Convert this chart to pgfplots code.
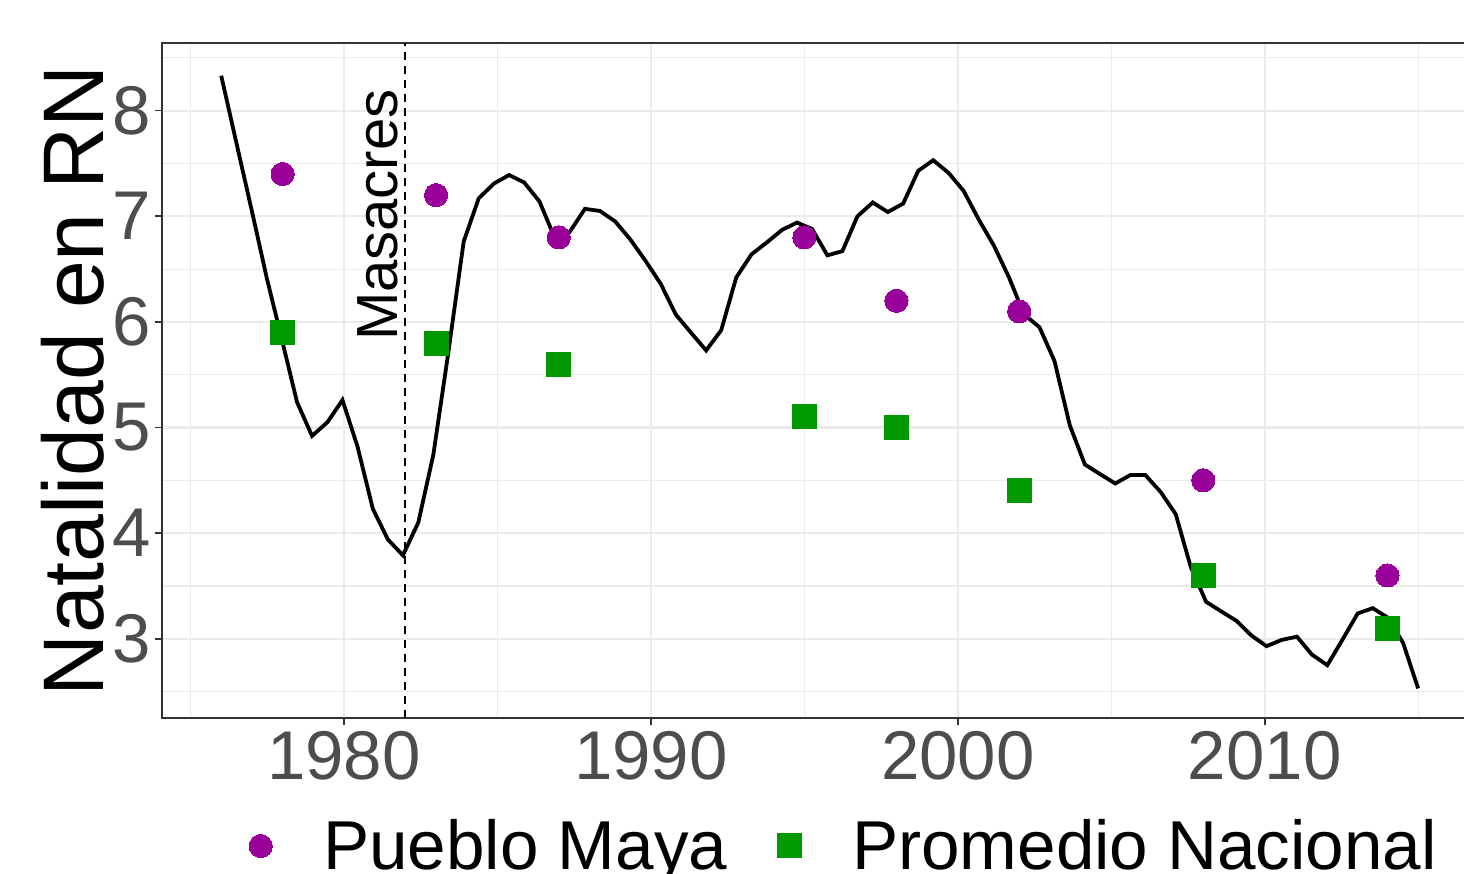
\documentclass[border=0pt]{standalone}
\usepackage{fontspec}
\setmainfont{Liberation Sans}
\usepackage{pgfplots}
\usepackage{pgfplotstable}
\pgfplotsset{compat=1.18}
\definecolor{maya}{HTML}{990099}
\definecolor{nac}{HTML}{009900}
\definecolor{gridc}{HTML}{EBEBEB}
\definecolor{tickc}{HTML}{4D4D4D}
\definecolor{framec}{HTML}{333333}
\pgfplotsset{singlemark/.style={legend image code/.code={\draw[##1] plot coordinates {(0pt,0pt)};}}}

\pgfplotstableread{
year value
1976.00 8.33
1976.49 7.70
1976.99 7.06
1977.48 6.42
1977.97 5.84
1978.47 5.24
1978.96 4.92
1979.46 5.05
1979.95 5.26
1980.44 4.82
1980.94 4.23
1981.43 3.94
1981.92 3.79
1982.42 4.10
1982.91 4.74
1983.41 5.73
1983.90 6.76
1984.39 7.17
1984.89 7.31
1985.38 7.39
1985.87 7.32
1986.37 7.14
1986.86 6.80
1987.35 6.85
1987.85 7.07
1988.34 7.05
1988.84 6.95
1989.33 6.78
1989.82 6.58
1990.32 6.36
1990.81 6.07
1991.30 5.90
1991.80 5.73
1992.29 5.92
1992.78 6.42
1993.28 6.64
1993.77 6.75
1994.27 6.87
1994.76 6.94
1995.25 6.88
1995.75 6.63
1996.24 6.67
1996.73 7.00
1997.23 7.13
1997.72 7.04
1998.22 7.12
1998.71 7.43
1999.20 7.53
1999.70 7.41
2000.19 7.24
2000.68 6.97
2001.18 6.72
2001.67 6.42
2002.16 6.07
2002.66 5.95
2003.15 5.63
2003.65 5.02
2004.14 4.65
2004.63 4.56
2005.13 4.47
2005.62 4.55
2006.11 4.55
2006.61 4.39
2007.10 4.18
2007.59 3.68
2008.09 3.35
2008.58 3.26
2009.08 3.17
2009.57 3.03
2010.06 2.93
2010.56 2.99
2011.05 3.02
2011.54 2.85
2012.04 2.75
2012.53 2.99
2013.03 3.24
2013.52 3.29
2014.01 3.20
2014.51 2.96
2015.00 2.53
}\natalidad

\pgfplotstableread{
year maya nacional
1978 7.40 5.90
1983 7.20 5.80
1987 6.80 5.60
1995 6.80 5.10
1998 6.20 5.00
2002 6.10 4.40
2008 4.50 3.60
2014 3.60 3.10
}\puntos

\begin{document}
\begin{tikzpicture}
\useasboundingbox (-81pt,-78pt) rectangle (651pt,359pt);
\begin{axis}[
  at={(0,0)}, anchor=south west,
  scale only axis, width=658pt, height=337.5pt,
  xmin=1974.07, xmax=2016.95, ymin=2.25, ymax=8.64,
  xtick={1980,1990,2000,2010},
  minor xtick={1975,1985,1995,2005,2015},
  ytick={3,4,5,6,7,8},
  minor ytick={2.5,3.5,4.5,5.5,6.5,7.5,8.5},
  grid=both,
  major grid style={gridc, line width=1.1pt},
  minor grid style={gridc, line width=0.55pt},
  axis line style={framec, line width=0.8pt},
  major tick style={framec, line width=0.8pt},
  major tick length=3.5pt, minor tick length=0pt,
  tick align=outside,
  xtick pos=lower, ytick pos=left,
  /pgf/number format/assume math mode=true,
  /pgf/number format/1000 sep={},
  tick label style={font=\fontsize{34.5}{40}\selectfont, text=tickc},
  xticklabel style={anchor=north, inner sep=0pt, yshift=-3pt},
  yticklabel style={anchor=east, inner sep=0pt, xshift=-2pt},
  ylabel={Natalidad en RN},
  ylabel style={font=\fontsize{43}{50}\selectfont, at={(axis description cs:-0.068,0.5)}, anchor=center, inner sep=0pt},
  legend columns=2,
  legend style={draw=none, fill=none,
    at={(axis description cs:0.5175,-0.1896)}, anchor=center,
    font=\fontsize{34.6}{40}\selectfont,
    nodes={inner xsep=0pt, inner ysep=2pt},
    /tikz/every odd column/.append style={column sep=25.5pt},
    /tikz/every even column/.append style={column sep=25pt}},
]
\addplot[black, line width=1.9pt, forget plot] table[x=year, y=value] {\natalidad};
\draw[black, line width=1pt, dash pattern=on 4pt off 3pt]
  ({axis cs:1982,5}|-{rel axis cs:0,0}) -- ({axis cs:1982,5}|-{rel axis cs:0,1});
\node[rotate=90, anchor=south, inner sep=0pt, font=\fontsize{29}{34}\selectfont]
  at ([xshift=-3.5pt]axis cs:1982,7.01) {Masacres};
\addplot[only marks, mark=*, mark size=5.8pt, draw=none,
  mark options={draw=maya, fill=maya, line width=0pt}, singlemark]
  table[x=year, y=maya] {\puntos};
\addlegendentry{Pueblo Maya}
\addplot[only marks, mark=square*, mark size=6pt, draw=none,
  mark options={draw=nac, fill=nac, line width=0pt}, singlemark]
  table[x=year, y=nacional] {\puntos};
\addlegendentry{Promedio Nacional}
\end{axis}
\end{tikzpicture}
\end{document}
